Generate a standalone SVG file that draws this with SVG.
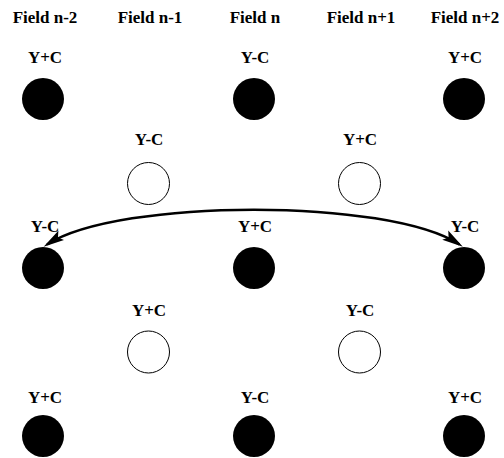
<svg xmlns="http://www.w3.org/2000/svg" width="504" height="458" viewBox="0 0 504 458">
<style>
text{font-family:"Liberation Serif","Times New Roman",serif;font-weight:bold;font-size:17px;text-anchor:middle;fill:#000}
.b{fill:#000;stroke:none}
.w{fill:#fff;stroke:#000;stroke-width:1}
.arc{fill:none;stroke:#000;stroke-width:2.5}
</style>
<defs>
<marker id="ah" markerUnits="userSpaceOnUse" markerWidth="22" markerHeight="12" viewBox="0 0 22 12" refX="17" refY="6" orient="auto-start-reverse">
<path d="M0,0.5 L21,6 L0,11.5 L4,6 z" fill="#000"/>
</marker>
</defs>
<rect width="504" height="458" fill="#fff"/>
<g id="headers">
<text x="45" y="23">Field n-2</text>
<text x="150" y="23">Field n-1</text>
<text x="255" y="23">Field n</text>
<text x="361" y="23">Field n+1</text>
<text x="465" y="23">Field n+2</text>
</g>
<g id="r1c1"><text x="45" y="63">Y+C</text><circle class="b" cx="43" cy="99" r="21"/></g>
<g id="r1c3"><text x="255" y="63">Y-C</text><circle class="b" cx="254" cy="99" r="21"/></g>
<g id="r1c5"><text x="465" y="63">Y+C</text><circle class="b" cx="464" cy="99" r="21"/></g>
<g id="r2c2"><text x="149" y="145">Y-C</text><circle class="w" cx="148.5" cy="183.5" r="21"/></g>
<g id="r2c4"><text x="360" y="145">Y+C</text><circle class="w" cx="359.5" cy="183.5" r="21"/></g>
<g id="r3c1"><text x="45" y="232">Y-C</text><circle class="b" cx="43" cy="268" r="21"/></g>
<g id="r3c3"><text x="255" y="232">Y+C</text><circle class="b" cx="254" cy="268" r="21"/></g>
<g id="r3c5"><text x="465" y="232">Y-C</text><circle class="b" cx="464" cy="268" r="21"/></g>
<g id="r4c2"><text x="149" y="316">Y+C</text><circle class="w" cx="148.5" cy="352" r="21"/></g>
<g id="r4c4"><text x="360" y="316">Y-C</text><circle class="w" cx="359.5" cy="352" r="21"/></g>
<g id="r5c1"><text x="45" y="403">Y+C</text><circle class="b" cx="43" cy="436" r="21"/></g>
<g id="r5c3"><text x="255" y="403">Y-C</text><circle class="b" cx="254" cy="436" r="21"/></g>
<g id="r5c5"><text x="465" y="403">Y+C</text><circle class="b" cx="464" cy="436" r="21"/></g>
<g id="connectors">
<path class="arc" d="M47,244.5 C120,198 388,198 459.5,244.5" marker-start="url(#ah)" marker-end="url(#ah)"/>
</g>
</svg>
